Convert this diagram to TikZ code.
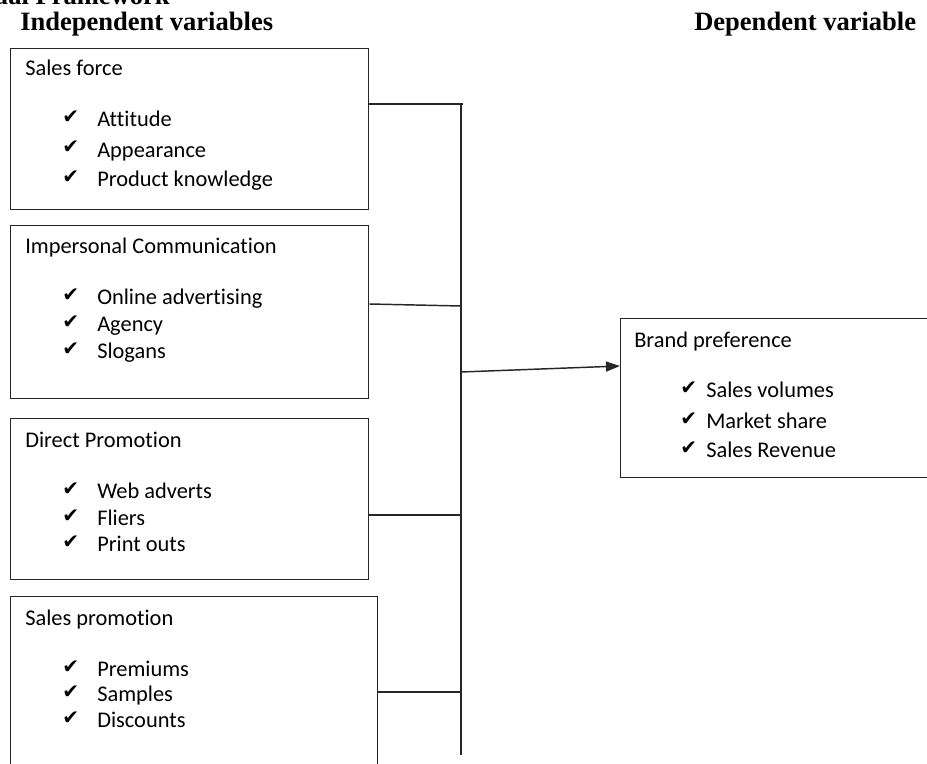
\documentclass[tikz,border=0pt]{standalone}
\usepackage{fontspec}
\setmainfont{Carlito}[Ligatures=NoCommon]
\newfontfamily\headfont{Liberation Serif}
\newfontfamily\symfont{DejaVu Sans}
\usetikzlibrary{arrows.meta,calc}
\begin{document}
\begin{tikzpicture}[x=0.75pt,y=-0.75pt,
  box/.style={draw=black!85, line width=1.1pt, inner sep=0pt, anchor=north west},
  lbl/.style={inner sep=0pt, anchor=base west, font=\fontsize{16.8}{20}\selectfont},
  chk/.style={inner sep=0pt, anchor=base west, font=\symfont\fontsize{15}{18}\selectfont},
  head/.style={inner sep=0pt, anchor=base west, font=\headfont\bfseries\fontsize{19.9}{24}\selectfont},
  wire/.style={draw=black!85, line width=1.1pt}]
\useasboundingbox (0,0) rectangle (927,763);
\clip (0,0) rectangle (927,763);

% cut-off title and headings
\node[head, anchor=base east] (title) at (170,5) {Conceptual Framework};
\node[head] (indep) at (20,31) {Independent variables};
\node[head] (dep) at (694,31) {Dependent variable};

% boxes
\node[box, minimum width=268.5pt, minimum height=120.75pt] (b1) at (10,48) {};
\node[box, minimum width=268.5pt, minimum height=129.75pt] (b2) at (10,225) {};
\node[box, minimum width=268.5pt, minimum height=120.75pt] (b3) at (10,418) {};
\node[box, minimum width=275.25pt, minimum height=142.5pt] (b4) at (10,596) {};
\node[box, minimum width=240pt, minimum height=119.25pt] (b5) at (620,318) {};

% box 1
\node[lbl] (t1) at (25,76) {Sales force};
\node[chk] (c11) at (62,124) {✔}; \node[lbl] (i11) at (97,127) {Attitude};
\node[chk] (c12) at (62,154) {✔}; \node[lbl] (i12) at (97,157) {Appearance};
\node[chk] (c13) at (62,183) {✔}; \node[lbl] (i13) at (97,186) {Product knowledge};

% box 2
\node[lbl] (t2) at (25,253) {Impersonal Communication};
\node[chk] (c21) at (62,301) {✔}; \node[lbl] (i21) at (97,304) {Online advertising};
\node[chk] (c22) at (62,328) {✔}; \node[lbl] (i22) at (97,331) {Agency};
\node[chk] (c23) at (62,355) {✔}; \node[lbl] (i23) at (97,358) {Slogans};

% box 3
\node[lbl] (t3) at (25,447) {Direct Promotion};
\node[chk] (c31) at (62,495) {✔}; \node[lbl] (i31) at (97,498) {Web adverts};
\node[chk] (c32) at (62,522) {✔}; \node[lbl] (i32) at (97,525) {Fliers};
\node[chk] (c33) at (62,548) {✔}; \node[lbl] (i33) at (97,551) {Print outs};

% box 4
\node[lbl] (t4) at (25,625) {Sales promotion};
\node[chk] (c41) at (62,673) {✔}; \node[lbl] (i41) at (97,676) {Premiums};
\node[chk] (c42) at (62,698) {✔}; \node[lbl] (i42) at (97,701) {Samples};
\node[chk] (c43) at (62,724) {✔}; \node[lbl] (i43) at (97,727) {Discounts};

% box 5
\node[lbl] (t5) at (634,347) {Brand preference};
\node[chk] (c51) at (680,394) {✔}; \node[lbl] (i51) at (706,397) {Sales volumes};
\node[chk] (c52) at (680,425) {✔}; \node[lbl] (i52) at (706,428) {Market share};
\node[chk] (c53) at (680,454) {✔}; \node[lbl] (i53) at (706,457) {Sales Revenue};

% bus and connectors
\coordinate (top) at (461,104);
\coordinate (bot) at (461,755);
\coordinate (j1) at (463,104);
\coordinate (j2) at (461,306);
\coordinate (j3) at (461,515);
\coordinate (j4) at (461,692);
\coordinate (jA) at (461,372);
\draw[wire] (top) -- (bot);
\draw[wire] ($(b1.north east)+(0,56)$) -- (j1);
\draw[wire] ($(b2.north east)+(0,79)$) -- (j2);
\draw[wire] (b3.east |- j3) -- (j3);
\draw[wire] (b4.east |- j4) -- (j4);
\draw[wire, -{Triangle[length=10.5pt, width=7.5pt]}] (jA) -- ($(b5.north west)+(0,48)$);
\end{tikzpicture}
\end{document}
